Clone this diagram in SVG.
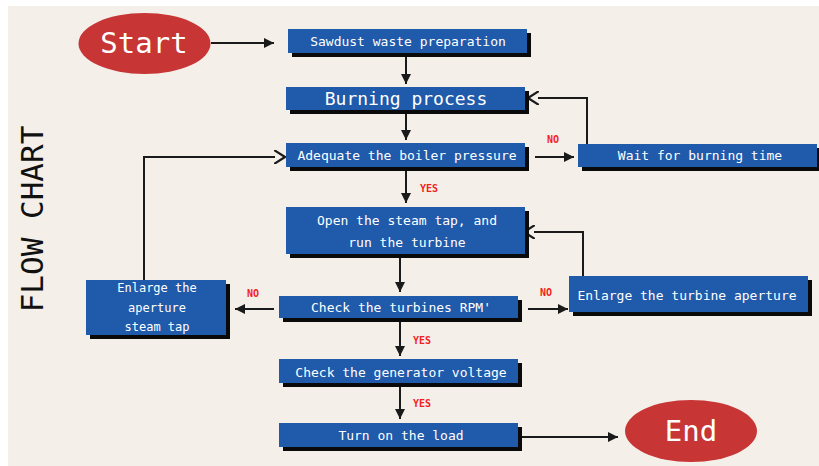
<svg xmlns="http://www.w3.org/2000/svg" width="819" height="466" viewBox="0 0 819 466">
<defs>
<marker id="fa" viewBox="0 0 10 10" refX="10" refY="5" markerWidth="10" markerHeight="10" markerUnits="userSpaceOnUse" orient="auto">
<path d="M0,0 L10,5 L0,10 Z" fill="#1a1a1a"/>
</marker>
<marker id="oa" viewBox="0 0 12 14" refX="1" refY="7" markerWidth="12" markerHeight="14" markerUnits="userSpaceOnUse" orient="auto">
<path d="M0,0 L11,7 L0,14" fill="none" stroke="#1a1a1a" stroke-width="2.2"/>
</marker>
</defs>
<style>
.bg{fill:#f4efe9}
.box{fill:#1f5aab}
.sh{fill:#0a0a0a}
.t{fill:#ffffff;font-family:"DejaVu Sans Mono","Liberation Mono",monospace;font-size:13px;text-anchor:middle}
.lbl{fill:#f21f1f;font-family:"DejaVu Sans Mono","Liberation Mono",monospace;font-size:10px;font-weight:bold}
.ln{fill:none;stroke:#1a1a1a;stroke-width:2}
.ell{fill:#c73535}
.big{fill:#ffffff;font-family:"DejaVu Sans Mono","Liberation Mono",monospace;font-size:29px;text-anchor:middle}
</style>
<rect x="0" y="0" width="819" height="466" fill="#ffffff"/>
<rect class="bg" x="8" y="6" width="811" height="460"/>
<text x="43" y="219" transform="rotate(-90 43 219)" fill="#111" font-family="DejaVu Sans Mono, Liberation Mono, monospace" font-size="31" text-anchor="middle">FLOW CHART</text>

<g id="connectors">
<line class="ln" x1="211" y1="43" x2="274" y2="43" marker-end="url(#fa)"/>
<line class="ln" x1="406" y1="57" x2="406" y2="84" marker-end="url(#fa)"/>
<line class="ln" x1="406" y1="114" x2="406" y2="140" marker-end="url(#fa)"/>
<line class="ln" x1="535" y1="157" x2="574" y2="157" marker-end="url(#fa)"/>
<polyline class="ln" points="587,144 587,98 538,98" marker-end="url(#oa)"/>
<line class="ln" x1="406" y1="171" x2="406" y2="203" marker-end="url(#fa)"/>
<line class="ln" x1="400" y1="258" x2="400" y2="292" marker-end="url(#fa)"/>
<line class="ln" x1="274" y1="309" x2="235" y2="309" marker-end="url(#fa)"/>
<polyline class="ln" points="144,280 144,157 275,157" marker-end="url(#oa)"/>
<line class="ln" x1="528" y1="309" x2="568" y2="309" marker-end="url(#fa)"/>
<polyline class="ln" points="583,276 583,232 534,232" marker-end="url(#oa)"/>
<line class="ln" x1="400" y1="322" x2="400" y2="356" marker-end="url(#fa)"/>
<line class="ln" x1="400" y1="387" x2="400" y2="419" marker-end="url(#fa)"/>
<line class="ln" x1="522" y1="437" x2="618" y2="437" marker-end="url(#fa)"/>
<text class="lbl" x="547" y="143">NO</text>
<text class="lbl" x="420" y="192">YES</text>
<text class="lbl" x="247" y="297">NO</text>
<text class="lbl" x="540" y="296">NO</text>
<text class="lbl" x="413" y="344">YES</text>
<text class="lbl" x="413" y="407">YES</text>
</g>

<g id="start">
<ellipse class="ell" cx="144.5" cy="43.5" rx="66" ry="30.5"/>
<text class="big" x="144" y="53">Start</text>
</g>
<g id="sawdust">
<rect class="sh" x="292" y="33" width="239" height="24"/>
<rect class="box" x="288" y="29" width="239" height="24"/>
<text class="t" x="408" y="45.5">Sawdust waste preparation</text>
</g>
<g id="burning">
<rect class="sh" x="290" y="91" width="239" height="23"/>
<rect class="box" x="286" y="87" width="239" height="23"/>
<text class="t" x="406" y="105" style="font-size:18px">Burning process</text>
</g>
<g id="adequate">
<rect class="sh" x="290" y="147" width="239" height="24"/>
<rect class="box" x="286" y="143" width="239" height="24"/>
<text class="t" x="407" y="160">Adequate the boiler pressure</text>
</g>
<g id="wait">
<rect class="sh" x="582" y="148" width="239" height="23"/>
<rect class="box" x="578" y="144" width="239" height="23"/>
<text class="t" x="700" y="160">Wait for burning time</text>
</g>
<g id="open">
<rect class="sh" x="290" y="211" width="239" height="47"/>
<rect class="box" x="286" y="207" width="239" height="47"/>
<text class="t" x="407" y="225">Open the steam tap, and</text>
<text class="t" x="407" y="247">run the turbine</text>
</g>
<g id="checkrpm">
<rect class="sh" x="283" y="300" width="239" height="22"/>
<rect class="box" x="279" y="296" width="239" height="22"/>
<text class="t" x="401" y="312">Check the turbines RPM'</text>
</g>
<g id="enlargetap">
<rect class="sh" x="90" y="284" width="140" height="55"/>
<rect class="box" x="86" y="280" width="140" height="55"/>
<text class="t" x="157" y="292" style="font-size:12px">Enlarge the</text>
<text class="t" x="157" y="312" style="font-size:12px">aperture</text>
<text class="t" x="157" y="331" style="font-size:12px">steam tap</text>
</g>
<g id="enlargeturbine">
<rect class="sh" x="573" y="280" width="239" height="36"/>
<rect class="box" x="569" y="276" width="239" height="36"/>
<text class="t" x="687" y="300">Enlarge the turbine aperture</text>
</g>
<g id="generator">
<rect class="sh" x="283" y="363" width="239" height="24"/>
<rect class="box" x="279" y="359" width="239" height="24"/>
<text class="t" x="401" y="377">Check the generator voltage</text>
</g>
<g id="load">
<rect class="sh" x="283" y="427" width="239" height="24"/>
<rect class="box" x="279" y="423" width="239" height="24"/>
<text class="t" x="401" y="440">Turn on the load</text>
</g>
<g id="end">
<ellipse class="ell" cx="691" cy="431" rx="66" ry="31"/>
<text class="big" x="691" y="441">End</text>
</g>
</svg>
